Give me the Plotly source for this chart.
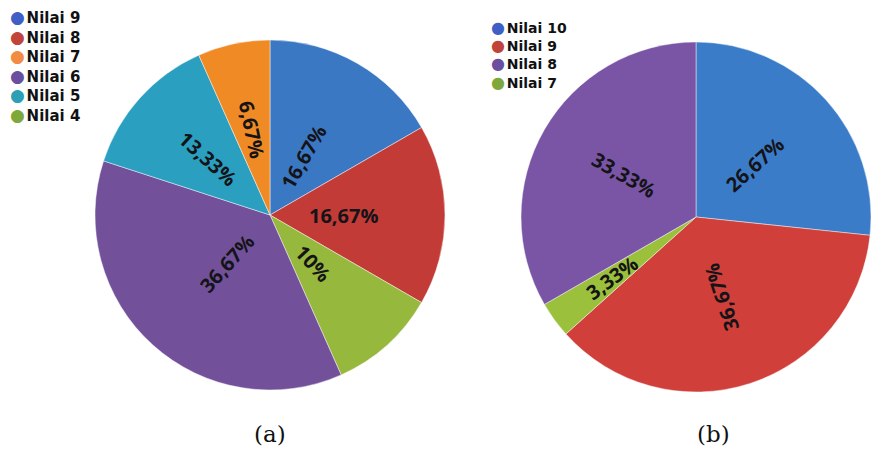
import math
import plotly.graph_objects as go

# Chart (a)
a_labels = ["Nilai 9", "Nilai 8", "Nilai 4", "Nilai 6", "Nilai 5", "Nilai 7"]
a_values = [16.67, 16.67, 10, 36.67, 13.33, 6.67]
a_colors = ["#3b78c4", "#c23b36", "#96b83c", "#72519a", "#2a9fc0", "#f08a24"]
a_legend = ["Nilai 9", "Nilai 8", "Nilai 7", "Nilai 6", "Nilai 5", "Nilai 4"]
a_legend_colors = ["#3f5fc7", "#c0443a", "#f28c45", "#6a4fa0", "#2ba0b5", "#7fa83a"]

# Chart (b)
b_labels = ["Nilai 10", "Nilai 9", "Nilai 7", "Nilai 8"]
b_values = [26.67, 36.67, 3.33, 33.33]
b_colors = ["#3b7cc9", "#d03f3a", "#9bc03c", "#7a55a6"]
b_legend = ["Nilai 10", "Nilai 9", "Nilai 8", "Nilai 7"]
b_legend_colors = ["#3f5fc7", "#c0443a", "#6a4fa0", "#7fa83a"]

captions = ["(a)", "(b)"]

# style: label distance from centre as a fraction of radius
a_label_r = [0.38, 0.42, 0.37, 0.37, 0.48, 0.50]
b_label_r = [0.45, 0.48, 0.59, 0.48]

W, H = 871, 454
pies = [
    dict(labels=a_labels, values=a_values, colors=a_colors, lr=a_label_r,
         x0=95, x1=445, y0=40, y1=390),
    dict(labels=b_labels, values=b_values, colors=b_colors, lr=b_label_r,
         x0=521, x1=871, y0=42, y1=392),
]


def fmt(v):
    return f"{v:g}".replace(".", ",") + "%"


fig = go.Figure()
annotations = []
slice_font = dict(family="Open Sans", size=20, color="#141418", weight="bold")

for p in pies:
    fig.add_trace(go.Pie(
        labels=p["labels"], values=p["values"], text=[fmt(v) for v in p["values"]],
        textinfo="none", sort=False, direction="clockwise", rotation=0,
        marker=dict(colors=p["colors"], line=dict(color="rgba(255,255,255,0.45)", width=1)),
        showlegend=False, hoverinfo="label+text",
        domain=dict(x=[p["x0"] / W, p["x1"] / W], y=[1 - p["y1"] / H, 1 - p["y0"] / H]),
    ))
    cx = (p["x0"] + p["x1"]) / 2
    cy = (p["y0"] + p["y1"]) / 2
    R = min(p["x1"] - p["x0"], p["y1"] - p["y0"]) / 2
    total = sum(p["values"])
    cum = 0
    for v, lr in zip(p["values"], p["lr"]):
        theta = 360 * (cum + v / 2) / total
        cum += v
        t = math.radians(theta)
        px = cx + lr * R * math.sin(t)
        py = cy - lr * R * math.cos(t)
        ang = theta - 90 if theta < 150 else theta - 270
        annotations.append(dict(
            x=px / W, y=1 - py / H, xref="paper", yref="paper",
            xanchor="center", yanchor="middle", showarrow=False,
            text=fmt(v), textangle=ang, font=slice_font,
        ))


def legend_text(labels, colors, dot):
    return "<br>".join(
        f"<span style='color:{c};font-size:{dot}px'>●</span><span style='font-size:5px'> </span>{l}"
        for l, c in zip(labels, colors)
    )


annotations.append(dict(
    x=8 / W, y=1 - 5 / H, xref="paper", yref="paper",
    xanchor="left", yanchor="top", showarrow=False, align="left",
    text=legend_text(a_legend, a_legend_colors, 17),
    font=dict(family="DejaVu Sans", size=15, color="#111111", weight="bold"),
))
annotations.append(dict(
    x=489 / W, y=1 - 16 / H, xref="paper", yref="paper",
    xanchor="left", yanchor="top", showarrow=False, align="left",
    text=legend_text(b_legend, b_legend_colors, 16),
    font=dict(family="DejaVu Sans", size=14, color="#111111", weight="bold"),
))

cap_font = dict(family="DejaVu Serif", size=23, color="#111111")
for cx, cap in zip([270, 713], captions):
    annotations.append(dict(
        x=cx / W, y=1 - 434 / H, xref="paper", yref="paper",
        xanchor="center", yanchor="middle", showarrow=False,
        text=cap, font=cap_font,
    ))

fig.update_layout(
    width=W, height=H,
    margin=dict(l=0, r=0, t=0, b=0),
    paper_bgcolor="white", plot_bgcolor="white",
    annotations=annotations,
)

fig.write_html("out.html")
